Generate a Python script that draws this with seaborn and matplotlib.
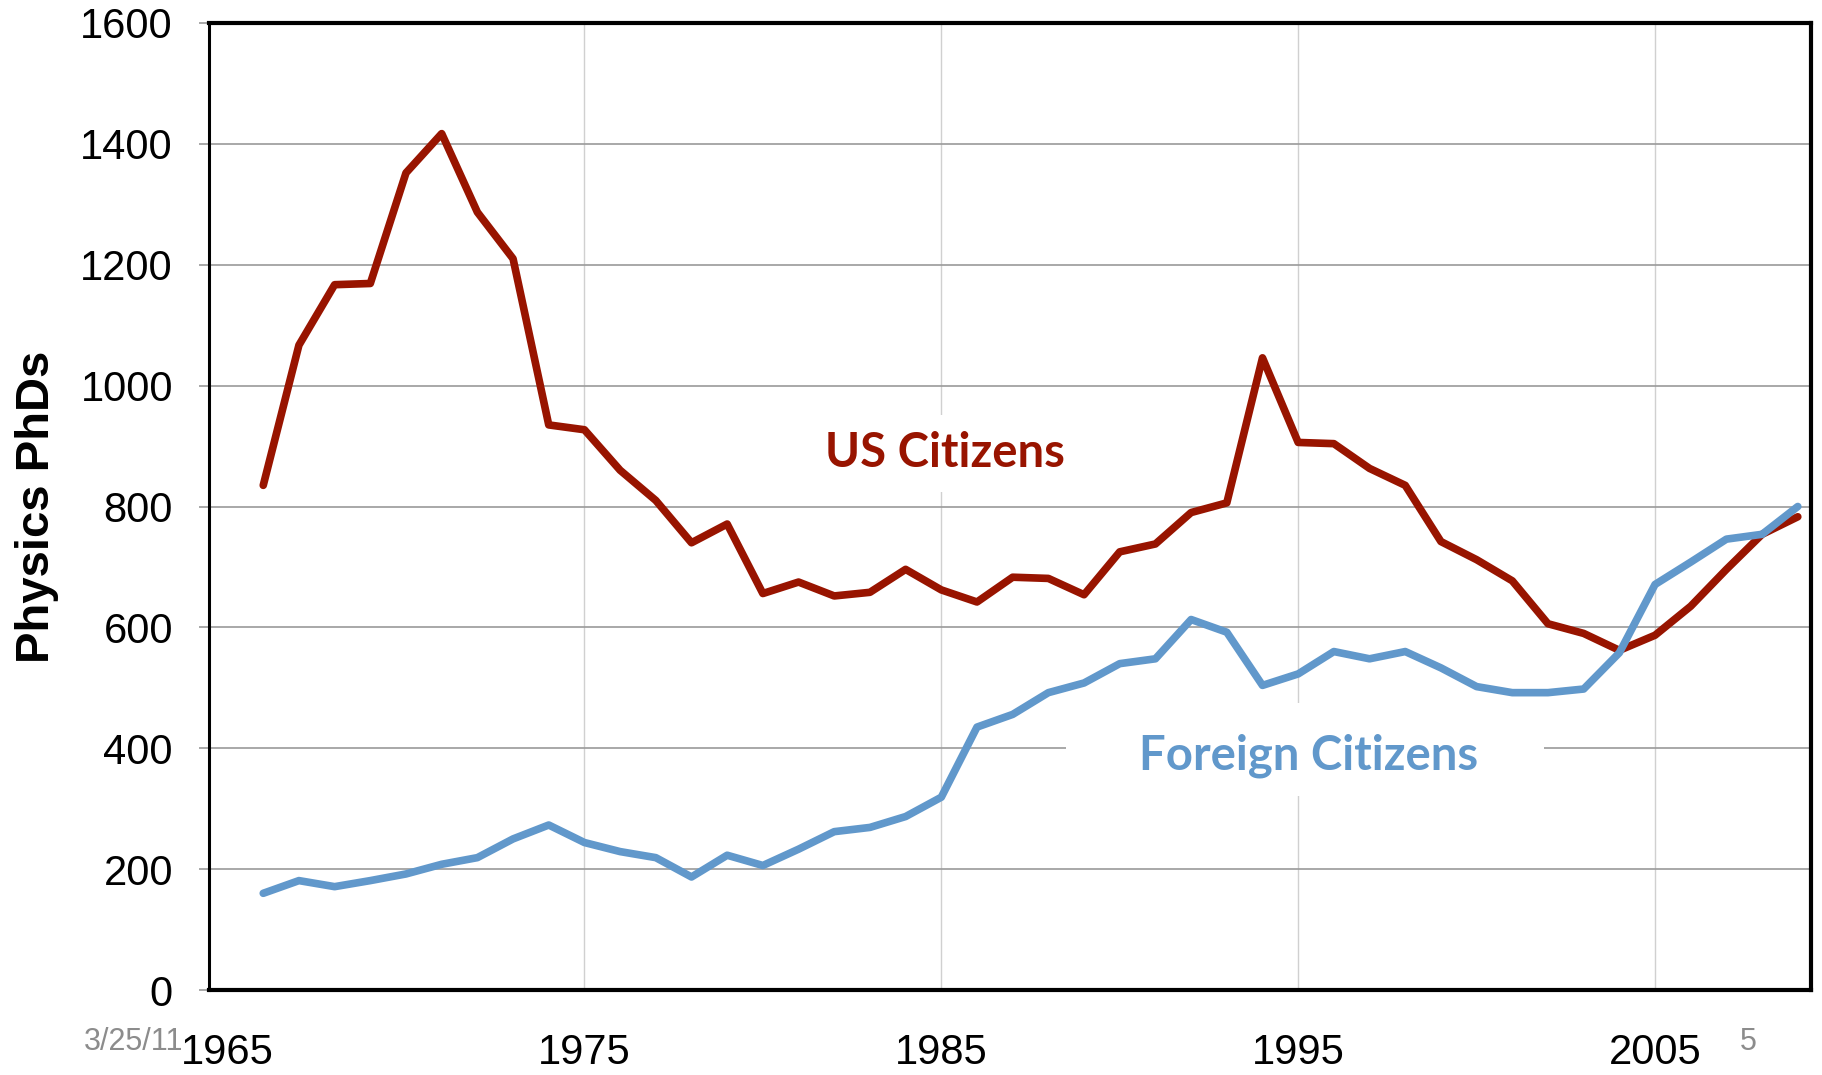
import pandas as pd
import numpy as np
import matplotlib.pyplot as plt
import seaborn as sns
from matplotlib.patches import Rectangle

years = list(range(1966, 2010))
us_citizens = [835, 1067, 1167, 1169, 1352, 1417, 1287, 1210, 935, 927,
               860, 810, 740, 771, 656, 675, 652, 658, 696, 662,
               642, 683, 681, 654, 725, 738, 790, 806, 1046, 906,
               904, 863, 835, 742, 712, 677, 606, 590, 562, 587,
               635, 696, 754, 783]
foreign_citizens = [160, 181, 171, 181, 192, 208, 219, 250, 273, 244,
                    229, 219, 187, 223, 206, 233, 262, 269, 287, 319,
                    435, 456, 492, 508, 540, 548, 613, 592, 504, 523,
                    560, 548, 560, 533, 502, 492, 492, 498, 558, 671,
                    708, 746, 754, 800]
x_ticks = [1965, 1975, 1985, 1995, 2005]
y_ticks = [0, 200, 400, 600, 800, 1000, 1200, 1400, 1600]

df = pd.DataFrame({
    "year": years * 2,
    "phds": us_citizens + foreign_citizens,
    "group": ["US Citizens"] * len(years) + ["Foreign Citizens"] * len(years),
})

sns.set_style("white")
plt.rcParams['font.family'] = ['Liberation Sans', 'DejaVu Sans']
plt.rcParams['text.color'] = 'black'
plt.rcParams['axes.labelcolor'] = 'black'
plt.rcParams['xtick.color'] = 'black'
plt.rcParams['ytick.color'] = 'black'

red = "#981400"
blue = "#6198CB"

fig = plt.figure(figsize=(18.22, 10.75), dpi=100)
ax = fig.add_axes([209 / 1822, 1 - 990 / 1075, (1811 - 209) / 1822, (990 - 23) / 1075])

sns.lineplot(data=df, x="year", y="phds", hue="group",
             palette={"US Citizens": red, "Foreign Citizens": blue},
             linewidth=5.5, legend=False, ax=ax, zorder=3)

ax.set_xlim(1964.48, 2009.37)
ax.set_ylim(0, 1600)
ax.set_xticks(x_ticks)
ax.set_yticks(y_ticks)

ax.grid(axis="y", color="#9a9a9a", linewidth=1.2, zorder=0)
ax.grid(axis="x", color="#d0d0d0", linewidth=1.0, zorder=0)
ax.get_xgridlines()[0].set_visible(False)
ax.set_axisbelow(True)

for side in ["top", "right", "bottom"]:
    ax.spines[side].set_linewidth(3)
    ax.spines[side].set_color("black")
ax.spines["left"].set_linewidth(2.2)
ax.spines["left"].set_color("black")

ax.tick_params(axis="y", which="both", left=True, length=7, width=1.2,
               color="#9a9a9a", labelcolor="black", pad=19, labelsize=30)
ax.tick_params(axis="x", length=0, pad=31, labelsize=30, labelcolor="black")

ax.set_xlabel("")
ax.set_ylabel("Physics PhDs", fontsize=34, fontweight="bold", labelpad=15,
              color="black")

# label boxes (white) that hide the gridlines behind the series names
ax.add_patch(Rectangle((1988.5, 321), 13.4, 154, facecolor="white",
                       edgecolor="none", zorder=1))
ax.text(1985.1, 888, "US Citizens", color=red, fontsize=34, fontweight="bold",
        family=["Lato", "DejaVu Sans"], ha="center", va="center", zorder=4,
        bbox=dict(facecolor="white", edgecolor="none", pad=12))
ax.text(1995.3, 388, "Foreign Citizens", color=blue, fontsize=34, fontweight="bold",
        family=["Lato", "DejaVu Sans"], ha="center", va="center", zorder=4)

fig.text(84 / 1822, 1 - 1042 / 1075, "3/25/11", color="#8c8c8c", fontsize=22,
         ha="left", va="center")
fig.text(1740 / 1822, 1 - 1042 / 1075, "5", color="#8c8c8c", fontsize=22,
         ha="left", va="center")

fig.savefig("out.png", dpi=100)
